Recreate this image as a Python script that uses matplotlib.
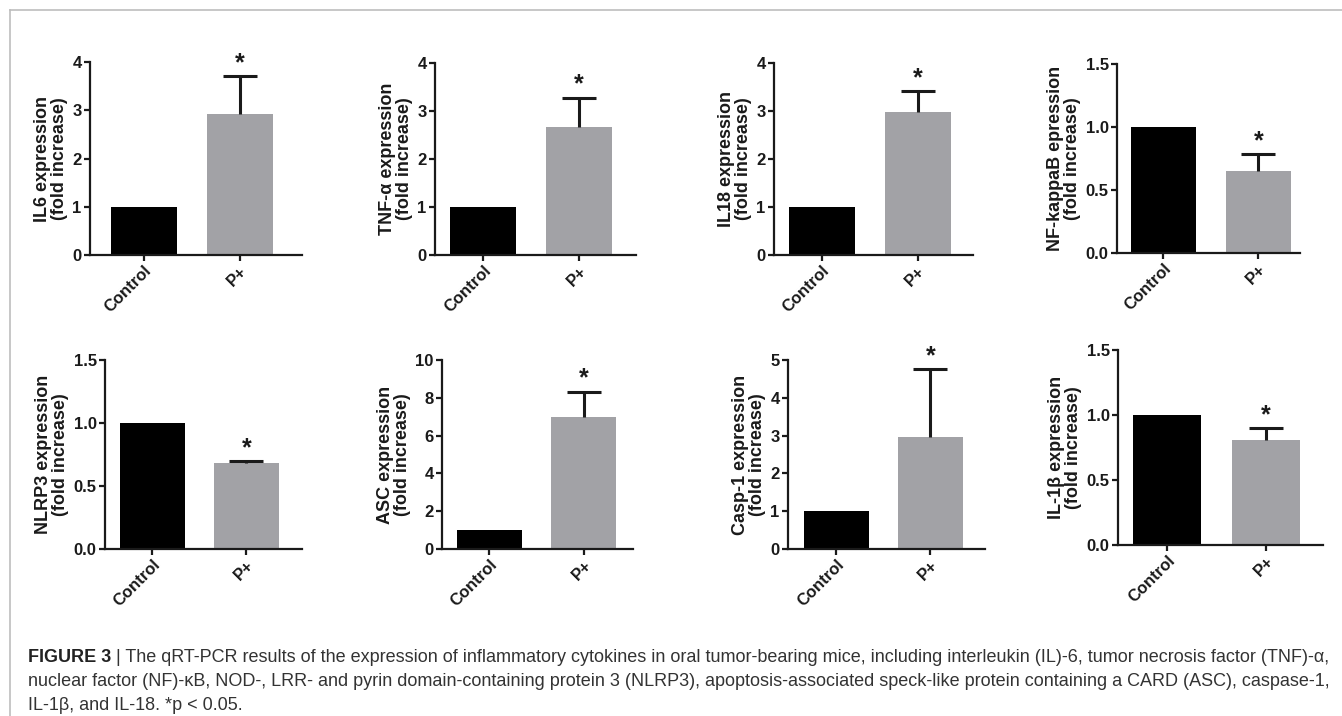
import matplotlib
matplotlib.use("Agg")
import matplotlib.pyplot as plt
from matplotlib.lines import Line2D
from matplotlib.ticker import FormatStrFormatter
from matplotlib import font_manager

# ---------------- data ----------------
categories = ["Control", "P+"]
ylabels = [
    "IL6 expression\n(fold increase)",
    "TNF-α expression\n(fold increase)",
    "IL18 expression\n(fold increase)",
    "NF-kappaB epression\n(fold increase)",
    "NLRP3 expression\n(fold increase)",
    "ASC expression\n(fold increase)",
    "Casp-1 expression\n(fold increase)",
    "IL-1β expression\n(fold increase)",
]
control_values = [1.0, 1.0, 1.0, 1.0, 1.0, 1.0, 1.0, 1.0]
p_values = [2.93, 2.67, 2.97, 0.65, 0.685, 7.0, 2.96, 0.81]
p_errors = [0.78, 0.61, 0.45, 0.135, 0.012, 1.33, 1.79, 0.088]
y_max = [4, 4, 4, 1.5, 1.5, 10, 5, 1.5]
y_step = [1, 1, 1, 0.5, 0.5, 2, 1, 0.5]
y_fmt = ["%d", "%d", "%d", "%.1f", "%.1f", "%d", "%d", "%.1f"]

caption_bold = "FIGURE 3"
caption_line1 = (" | The qRT-PCR results of the expression of inflammatory cytokines in oral "
                 "tumor-bearing mice, including interleukin (IL)-6, tumor necrosis factor (TNF)-α,")
caption_line2 = ("nuclear factor (NF)-κB, NOD-, LRR- and pyrin domain-containing protein 3 (NLRP3), "
                 "apoptosis-associated speck-like protein containing a CARD (ASC), caspase-1,")
caption_line3 = "IL-1β, and IL-18. *p < 0.05."

# ---------------- layout (pixels) ----------------
W, H = 1342, 716
# left spine, right end, top (ymax), bottom (0)
boxes = [
    (90, 302, 62, 255), (435, 636, 63, 255), (774, 973, 63, 255), (1117, 1300, 64, 253),
    (105, 302, 360, 549), (442, 633, 360, 549), (788, 985, 360, 549), (1118, 1323, 350, 545),
]
xlims = [
    (-0.56, 1.65), (-0.50, 1.59), (-0.50, 1.58), (-0.49, 1.44),
    (-0.50, 1.59), (-0.50, 1.52), (-0.51, 1.58), (-0.50, 1.58),
]

plt.rcParams["font.family"] = ["Liberation Sans", "DejaVu Sans"]
plt.rcParams["font.weight"] = "bold"

available = {f.name for f in font_manager.fontManager.ttflist}
cap_family = ["Liberation Sans Narrow", "Liberation Sans", "DejaVu Sans"] \
    if "Liberation Sans Narrow" in available else ["Liberation Sans", "DejaVu Sans"]

fig = plt.figure(figsize=(W / 100, H / 100), dpi=100)
fig.patch.set_facecolor("white")

BLACK = "#000000"
GRAY = "#a2a2a6"
INK = "#1a1a1a"

for i in range(8):
    l, r, t, b = boxes[i]
    ax = fig.add_axes([l / W, 1 - b / H, (r - l) / W, (b - t) / H])
    xs = [0, 1]
    ax.bar(xs, [control_values[i], p_values[i]], width=0.69,
           color=[BLACK, GRAY], zorder=2)
    _, caps, _ = ax.errorbar(1, p_values[i], yerr=[[0], [p_errors[i]]], fmt="none",
                             ecolor=INK, elinewidth=2.2, capsize=12, capthick=2.2, zorder=3)
    if len(caps) == 2:
        caps[0].set_visible(False)
    ax.text(1, p_values[i] + p_errors[i] + y_max[i] * 0.005, "*",
            ha="center", va="bottom", fontsize=18, fontweight="bold", color=INK)
    ax.set_xlim(*xlims[i])
    ax.set_ylim(0, y_max[i])
    ticks = []
    v = 0.0
    while v <= y_max[i] + 1e-9:
        ticks.append(v)
        v += y_step[i]
    ax.set_yticks(ticks)
    ax.yaxis.set_major_formatter(FormatStrFormatter(y_fmt[i]))
    ax.set_xticks(xs)
    ax.set_xticklabels(categories, rotation=45, ha="right", rotation_mode="anchor",
                       fontsize=12, fontweight="bold", color=INK)
    for lab in ax.get_yticklabels():
        lab.set_fontsize(12)
        lab.set_fontweight("bold")
        lab.set_color(INK)
    ax.set_ylabel(ylabels[i], fontsize=13, fontweight="bold", color=INK,
                  labelpad=3, linespacing=1.0)
    for s in ["top", "right"]:
        ax.spines[s].set_visible(False)
    for s in ["left", "bottom"]:
        ax.spines[s].set_linewidth(1.6)
        ax.spines[s].set_color(INK)
    ax.tick_params(axis="both", direction="out", length=4.5, width=1.6, color=INK, pad=1.5)
    ax.set_facecolor("none")

# frame lines (top and left)
fig.add_artist(Line2D([10 / W, 1.0], [1 - 10 / H, 1 - 10 / H], color="#bdbdbd", lw=1.2))
fig.add_artist(Line2D([10 / W, 10 / W], [0.0, 1 - 10 / H], color="#bdbdbd", lw=1.2))

# caption
cap_x = 28
cap_ys = [657, 682, 705]
target_w = 1326 - cap_x
fs = 11.0
renderer = fig.canvas.get_renderer()
tb = fig.text(cap_x / W, 1 - cap_ys[0] / H, caption_bold, fontsize=fs, fontweight="bold",
              color="#222222", va="center", ha="left", family=cap_family)
tr = fig.text(0, 1 - cap_ys[0] / H, caption_line1, fontsize=fs, fontweight="normal",
              color="#333333", va="center", ha="left", family=cap_family)
wb = tb.get_window_extent(renderer).width
wr = tr.get_window_extent(renderer).width
fs = fs * target_w / (wb + wr)
tb.set_fontsize(fs)
tr.set_fontsize(fs)
wb = tb.get_window_extent(renderer).width
tr.set_x((cap_x + wb) / W)
fig.text(cap_x / W, 1 - cap_ys[1] / H, caption_line2, fontsize=fs, fontweight="normal",
         color="#333333", va="center", ha="left", family=cap_family)
fig.text(cap_x / W, 1 - cap_ys[2] / H, caption_line3, fontsize=fs, fontweight="normal",
         color="#333333", va="center", ha="left", family=cap_family)

fig.savefig("out.png", dpi=100, facecolor="white")
